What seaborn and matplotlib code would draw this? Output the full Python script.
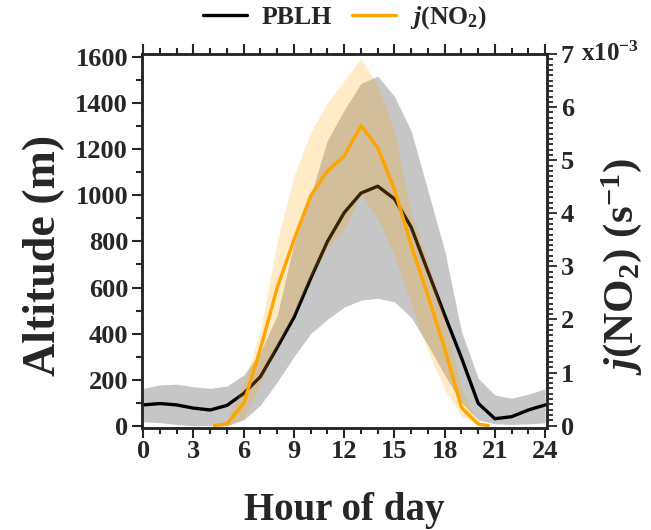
import numpy as np
import pandas as pd
import matplotlib
matplotlib.use("Agg")
import matplotlib.pyplot as plt
import seaborn as sns
from matplotlib.ticker import MultipleLocator

# PBLH (m), hourly 0-24
hours = np.arange(0, 25)
pblh_mean = [90, 96, 90, 76, 68, 88, 140, 213, 340, 470, 640, 800, 925,
             1010, 1040, 985, 862, 670, 480, 295, 97, 30, 39, 68, 90]
pblh_upper = [162, 177, 180, 169, 162, 172, 220, 320, 480, 790, 1000, 1240, 1371,
              1487, 1518, 1430, 1280, 1020, 760, 410, 206, 133, 119, 137, 160]
pblh_lower = [17, 13, 5, 0, 0, 0, 25, 90, 190, 300, 400, 462, 515,
              545, 553, 538, 470, 350, 220, 100, 25, 8, 5, 8, 12]

# j(NO2) in units of 1e-3 s-1
j_hours = [4.25, 5, 6, 7, 8, 9, 10, 11, 12, 13, 14, 15, 16, 17, 18, 19, 20, 20.6]
j_mean = [0, 0.03, 0.42, 1.45, 2.6, 3.5, 4.33, 4.8, 5.08, 5.65, 5.24, 4.45,
          3.4, 2.45, 1.45, 0.34, 0.03, 0]
j_upper = [0, 0.1, 0.8, 1.8, 3.48, 4.7, 5.52, 6.08, 6.5, 6.92, 6.4, 5.55,
           4.0, 3.1, 2.0, 0.7, 0.05, 0]
j_lower = [0, 0, 0.15, 0.8, 1.5, 2.1, 2.8, 3.35, 3.7, 4.36, 3.9, 3.2,
           2.3, 1.4, 0.68, 0.18, 0, 0]

sns.set_style("ticks")
plt.rcParams["font.family"] = ["Liberation Serif", "DejaVu Serif"]
plt.rcParams["font.weight"] = "bold"
plt.rcParams["mathtext.fontset"] = "custom"
plt.rcParams["mathtext.rm"] = "Liberation Serif:bold"
plt.rcParams["mathtext.it"] = "Liberation Serif:bold:italic"
plt.rcParams["mathtext.bf"] = "Liberation Serif:bold"

pblh = pd.DataFrame({"hour": hours, "pblh": pblh_mean})
jno2 = pd.DataFrame({"hour": j_hours, "j": j_mean})

fig, ax = plt.subplots(figsize=(6.51, 5.30), dpi=100)
fig.subplots_adjust(left=0.218, right=0.840, bottom=0.193, top=0.898)
ax2 = ax.twinx()

ax.fill_between(hours, pblh_lower, pblh_upper, color="#c6c6c6", lw=0, zorder=1)
sns.lineplot(data=pblh, x="hour", y="pblh", ax=ax, color="black", lw=2.4,
             label="PBLH", legend=False, zorder=2)

ax2.fill_between(j_hours, j_lower, j_upper, color="#ffa500", alpha=0.22, lw=0)
sns.lineplot(data=jno2, x="hour", y="j", ax=ax2, color="#ffa500", lw=2.4,
             label=r"$\it{j}$(NO$_2$)", legend=False)

ax.set_xlim(-0.08, 24.1)
ax.set_ylim(-9, 1614)
ax2.set_ylim(-0.04, 7.0)

ax.xaxis.set_major_locator(MultipleLocator(3))
ax.xaxis.set_minor_locator(MultipleLocator(1))
ax.yaxis.set_major_locator(MultipleLocator(200))
ax.yaxis.set_minor_locator(MultipleLocator(100))
ax2.yaxis.set_major_locator(MultipleLocator(1))
ax2.yaxis.set_minor_locator(MultipleLocator(0.1))

ax.tick_params(axis="x", which="both", direction="out", top=True, bottom=True, width=1.5)
ax.tick_params(axis="x", which="major", length=7, labelsize=19, pad=2)
ax.tick_params(axis="x", which="minor", length=4)
ax.tick_params(axis="y", which="both", direction="out", left=True, right=False, width=1.5)
ax.tick_params(axis="y", which="major", length=7, labelsize=19, pad=3)
ax.tick_params(axis="y", which="minor", length=4)
ax2.tick_params(axis="y", which="both", direction="out", width=1.3)
ax2.tick_params(axis="y", which="major", length=7, labelsize=19, pad=3)
ax2.tick_params(axis="y", which="minor", length=4.5)

for a in (ax, ax2):
    for s in a.spines.values():
        s.set_linewidth(1.8)
        s.set_visible(True)

ax.set_xlabel("Hour of day", fontsize=28, fontweight="bold")
ax.xaxis.set_label_coords(0.5, -0.172)
ax.set_ylabel("Altitude (m)", fontsize=33, fontweight="bold")
ax.yaxis.set_label_coords(-0.19, 0.46)
ax2.set_ylabel(r"$\it{j}$(NO$_2$) (s$^{-1}$)", fontsize=31, fontweight="bold")
ax2.yaxis.set_label_coords(1.13, 0.43)
ax2.text(1.085, 1.0, r"x10$^{-3}$", transform=ax2.transAxes, fontsize=18,
         fontweight="bold", ha="left", va="center")

h1, l1 = ax.get_legend_handles_labels()
h2, l2 = ax2.get_legend_handles_labels()
fig.legend(h1 + h2, l1 + l2, loc="upper center", bbox_to_anchor=(0.53, 1.035),
           ncol=2, frameon=False, fontsize=18.5, handlelength=1.7, columnspacing=0.8,
           handletextpad=0.55)

fig.savefig("out.png", dpi=100)
